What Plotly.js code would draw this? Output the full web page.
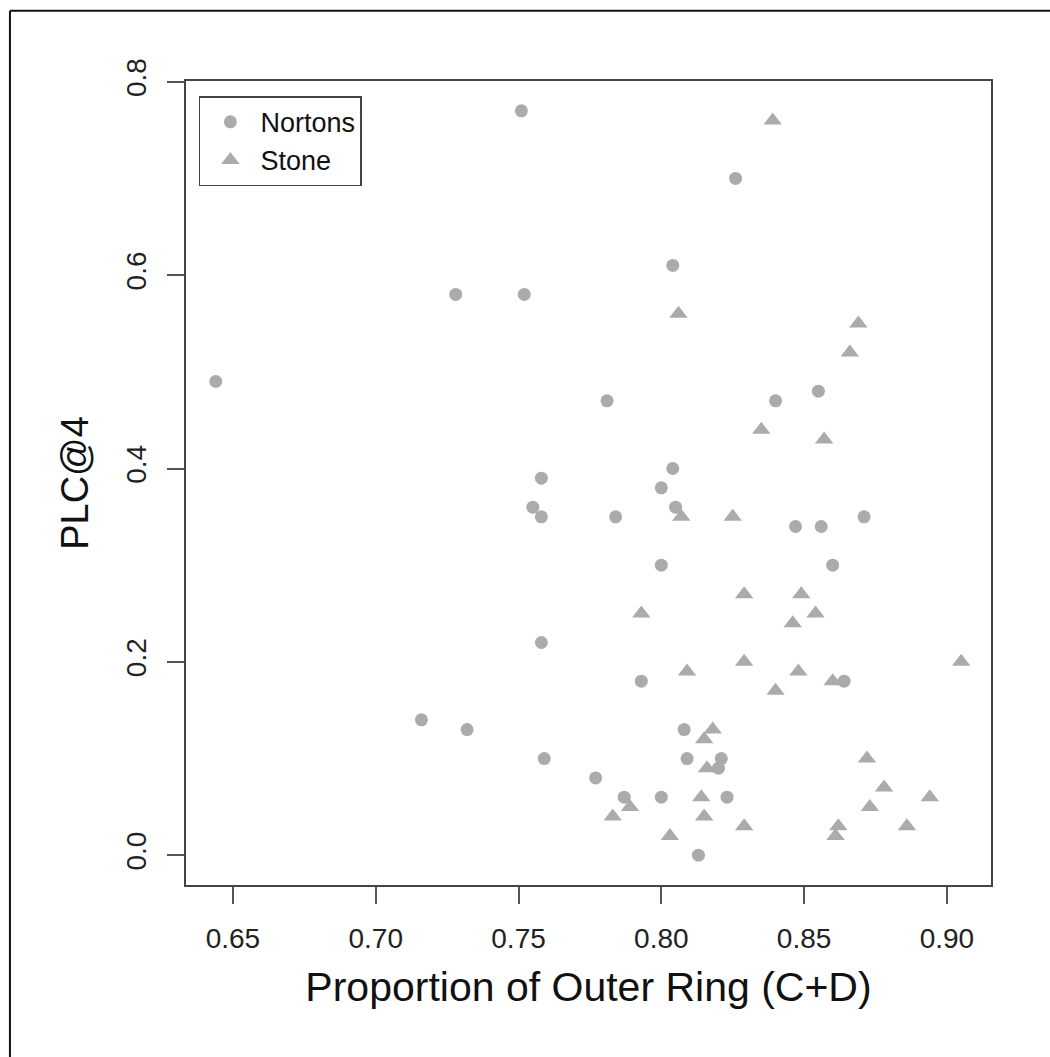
<!DOCTYPE html>
<html>
<head>
<meta charset="utf-8">
<script src="https://cdn.plot.ly/plotly-3.0.1.min.js"></script>
<style>
  html, body { margin: 0; padding: 0; background: #ffffff; }
  #chart { width: 1050px; height: 1057px; }
</style>
</head>
<body>
<div id="chart"></div>
<script>
// ---- data ----
const seriesNames = ["Nortons", "Stone"];

const nortonsX = [0.644, 0.751, 0.728, 0.752, 0.826, 0.804, 0.781, 0.840, 0.855,
                  0.758, 0.755, 0.758, 0.758, 0.716, 0.732, 0.759, 0.777, 0.804,
                  0.800, 0.805, 0.784, 0.847, 0.856, 0.871, 0.800, 0.860, 0.793,
                  0.864, 0.808, 0.809, 0.821, 0.820, 0.787, 0.800, 0.823, 0.813];
const nortonsY = [0.49, 0.77, 0.58, 0.58, 0.70, 0.61, 0.47, 0.47, 0.48,
                  0.39, 0.36, 0.35, 0.22, 0.14, 0.13, 0.10, 0.08, 0.40,
                  0.38, 0.36, 0.35, 0.34, 0.34, 0.35, 0.30, 0.30, 0.18,
                  0.18, 0.13, 0.10, 0.10, 0.09, 0.06, 0.06, 0.06, 0.00];

const stoneX = [0.839, 0.806, 0.869, 0.866, 0.835, 0.857, 0.807, 0.825, 0.829,
                0.849, 0.793, 0.854, 0.846, 0.829, 0.905, 0.809, 0.848, 0.840,
                0.860, 0.818, 0.815, 0.816, 0.872, 0.789, 0.783, 0.814, 0.815,
                0.829, 0.803, 0.878, 0.894, 0.873, 0.862, 0.861, 0.886];
const stoneY = [0.76, 0.56, 0.55, 0.52, 0.44, 0.43, 0.35, 0.35, 0.27,
                0.27, 0.25, 0.25, 0.24, 0.20, 0.20, 0.19, 0.19, 0.17,
                0.18, 0.13, 0.12, 0.09, 0.10, 0.05, 0.04, 0.06, 0.04,
                0.03, 0.02, 0.07, 0.06, 0.05, 0.03, 0.02, 0.03];

const xTicks = [0.65, 0.70, 0.75, 0.80, 0.85, 0.90];
const yTicks = [0.0, 0.2, 0.4, 0.6, 0.8];

const xTitle = "Proportion of Outer Ring (C+D)";
const yTitle = "PLC@4";

// ---- styling ----
const pointColor = "#ababab";
const fontFamily = "Liberation Sans, Arial, Helvetica, sans-serif";

// R-style 4% axis extension
function padRange(arr) {
  const mn = Math.min(...arr), mx = Math.max(...arr);
  const d = (mx - mn) * 0.04;
  return [mn - d, mx + d];
}
const xr = padRange(nortonsX.concat(stoneX));
const yr = padRange(nortonsY.concat(stoneY));

const traces = [
  {
    type: "scatter", mode: "markers", name: seriesNames[0],
    x: nortonsX, y: nortonsY,
    marker: { symbol: "circle", size: 13, color: pointColor, line: { width: 0 } }
  },
  {
    type: "scatter", mode: "markers", name: seriesNames[1],
    x: stoneX, y: stoneY,
    marker: { symbol: "triangle-up", size: 16, color: pointColor, line: { width: 0 } }
  }
];

const axisCommon = {
  showgrid: false, zeroline: false,
  showline: true, mirror: true, linecolor: "#444", linewidth: 2,
  ticks: "outside", ticklen: 17, tickwidth: 2, tickcolor: "#555",
  ticklabelstandoff: 10,
  tickfont: { family: fontFamily, size: 28, color: "#222" }
};

const layout = {
  width: 1050, height: 1057,
  paper_bgcolor: "#ffffff", plot_bgcolor: "#ffffff",
  margin: { l: 186, r: 59, t: 81, b: 172, pad: 0 },
  showlegend: true,
  legend: {
    x: 0.016, y: 0.981, xanchor: "left", yanchor: "top",
    bordercolor: "#444", borderwidth: 1.5, bgcolor: "#ffffff",
    font: { family: fontFamily, size: 27, color: "#111" },
    itemwidth: 50, tracegroupgap: 0
  },
  xaxis: Object.assign({}, axisCommon, {
    range: xr, tickvals: xTicks, tickformat: ".2f",
    title: { text: xTitle, font: { family: fontFamily, size: 41, color: "#111" }, standoff: 20 }
  }),
  yaxis: Object.assign({}, axisCommon, {
    range: yr, tickvals: yTicks, tickformat: ".1f", tickangle: -90,
    title: { text: yTitle, font: { family: fontFamily, size: 38, color: "#111" }, standoff: 20 }
  }),
  shapes: [
    { type: "line", xref: "paper", yref: "paper", x0: -0.2187, x1: 1.08, y0: 1.0875, y1: 1.0875,
      line: { color: "#111", width: 2 } },
    { type: "line", xref: "paper", yref: "paper", x0: -0.2187, x1: -0.2187, y0: 1.0875, y1: -0.22,
      line: { color: "#111", width: 2 } }
  ]
};

Plotly.newPlot("chart", traces, layout, { displayModeBar: false, staticPlot: true });
</script>
</body>
</html>
